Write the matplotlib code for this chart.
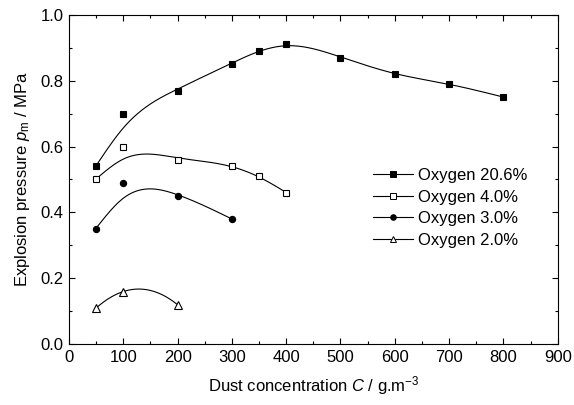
import matplotlib
matplotlib.use("Agg")
import matplotlib.pyplot as plt
import numpy as np
from matplotlib.lines import Line2D
from matplotlib.ticker import MultipleLocator, FormatStrFormatter

plt.rcParams["font.family"] = ["Liberation Sans", "DejaVu Sans"]
plt.rcParams["mathtext.fontset"] = "custom"
plt.rcParams["mathtext.rm"] = "Liberation Sans"
plt.rcParams["mathtext.it"] = "Liberation Sans:italic"

# data
labels = ["Oxygen 20.6%", "Oxygen 4.0%", "Oxygen 3.0%", "Oxygen 2.0%"]
conc_206 = [50, 100, 200, 300, 350, 400, 500, 600, 700, 800]
pm_206 = [0.54, 0.70, 0.77, 0.85, 0.89, 0.91, 0.87, 0.82, 0.79, 0.75]
conc_40 = [50, 100, 200, 300, 350, 400]
pm_40 = [0.50, 0.60, 0.56, 0.54, 0.51, 0.46]
conc_30 = [50, 100, 200, 300]
pm_30 = [0.35, 0.49, 0.45, 0.38]
conc_20 = [50, 100, 200]
pm_20 = [0.11, 0.16, 0.12]

markers = ["s", "s", "o", "^"]
faces = ["k", "w", "k", "w"]
smooth_lam = [2e4, 1.5e4, 1.5e4, 0.0]


def smooth_curve(x, y, lam, end_w=4.0, second_w=0.3):
    """Penalised (smoothing-spline like) curve on a 1-unit grid.
    The 100 g/m3 point is given a low weight, as the fitted curve
    in the original figure runs below it."""
    x = np.asarray(x, float)
    y = np.asarray(y, float)
    xs = np.arange(x[0], x[-1] + 1, 1.0)
    if lam <= 0:
        # plain interpolating polynomial for short series
        c = np.polyfit(x, y, len(x) - 1)
        return xs, np.polyval(c, xs)
    n = len(xs)
    idx = np.searchsorted(xs, x)
    wts = np.ones(len(x))
    wts[0] = wts[-1] = end_w
    wts[1] = second_w
    w = np.zeros(n)
    w[idx] = wts
    b = np.zeros(n)
    b[idx] = wts * y
    D = np.diff(np.eye(n), 2, axis=0)
    A = np.diag(w) + lam * D.T @ D
    return xs, np.linalg.solve(A, b)


fig = plt.figure(figsize=(5.74, 4.05), dpi=100)
ax = fig.add_axes([0.1202, 0.1499, 0.8514, 0.8138])

series = [(conc_206, pm_206), (conc_40, pm_40), (conc_30, pm_30), (conc_20, pm_20)]
handles = []
for (cx, cy), m, fc, lam, lab in zip(series, markers, faces, smooth_lam, labels):
    xs, ys = smooth_curve(cx, cy, lam)
    ax.plot(xs, ys, color="k", lw=0.8, zorder=2)
    ax.plot(cx, cy, ls="none", marker=m, ms=4.5 if m != "^" else 5.5,
            mfc=fc, mec="k", mew=0.8, zorder=3)
    handles.append(Line2D([], [], color="k", lw=0.8, marker=m, ms=4,
                          mfc=fc, mec="k", mew=0.7, label=lab))

ax.set_xlim(0, 900)
ax.set_ylim(0, 1.0)
ax.xaxis.set_major_locator(MultipleLocator(100))
ax.xaxis.set_minor_locator(MultipleLocator(50))
ax.yaxis.set_major_locator(MultipleLocator(0.2))
ax.yaxis.set_minor_locator(MultipleLocator(0.1))
ax.yaxis.set_major_formatter(FormatStrFormatter("%.1f"))
ax.tick_params(which="both", direction="in", top=True, right=True,
               labelsize=12, width=0.8)
ax.tick_params(which="major", length=4.3, pad=4)
ax.tick_params(which="minor", length=2.2)
for s in ax.spines.values():
    s.set_linewidth(0.8)

ax.set_xlabel(r"Dust concentration $C$ / g.m$^{-3}$", fontsize=12, labelpad=7)
ax.set_ylabel(r"Explosion pressure $p_\mathrm{m}$ / MPa", fontsize=12, labelpad=6)

ax.legend(handles=handles, loc="upper left", bbox_to_anchor=(0.622, 0.535),
          frameon=False, fontsize=12, handlelength=2.4, handletextpad=0.3,
          labelspacing=0.4, borderaxespad=0, borderpad=0)

fig.savefig("out.png", dpi=100)
